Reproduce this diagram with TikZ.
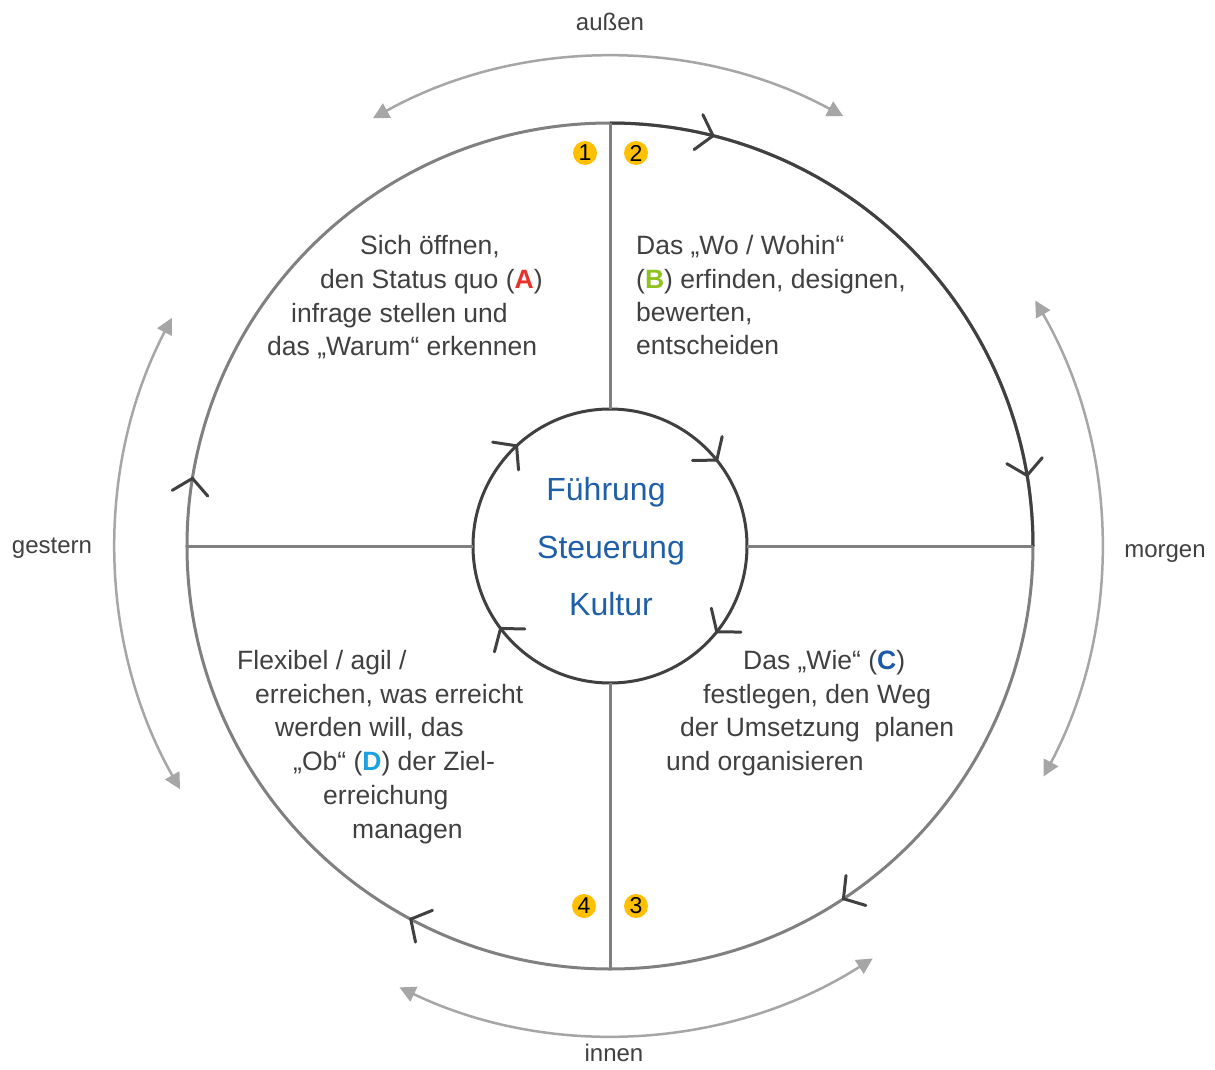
\documentclass[tikz,border=0pt]{standalone}
\usepackage{fontspec}
\setmainfont{Liberation Sans}
\usetikzlibrary{arrows.meta}
\definecolor{txt}{HTML}{404040}
\definecolor{ringgray}{HTML}{808080}
\definecolor{ringdark}{HTML}{404040}
\definecolor{outgray}{HTML}{A6A6A6}
\definecolor{cA}{HTML}{E8312A}
\definecolor{cB}{HTML}{8DC21F}
\definecolor{cC}{HTML}{1B5AA6}
\definecolor{cD}{HTML}{1BA1E2}
\definecolor{cblue}{HTML}{1F5FA8}
\definecolor{numyellow}{HTML}{FFC000}
\tikzset{
  ring/.style={circle, draw=ringgray, line width=3pt, inner sep=0pt, outer sep=0pt},
  innerring/.style={circle, draw=ringdark, line width=3pt, inner sep=0pt, outer sep=0pt},
  divider/.style={draw=ringgray, line width=3pt},
  chev/.style={draw=ringdark, line width=3pt, line cap=round, line join=miter},
  outarrow/.style={draw=outgray, line width=2.5pt, {Triangle[length=16pt,width=16pt]}-{Triangle[length=16pt,width=16pt]}},
  bodytext/.style={anchor=base west, inner sep=0pt, text=txt, font=\fontsize{26.5}{33.5}\selectfont},
  centertext/.style={anchor=base, inner sep=0pt, text=cblue, font=\fontsize{32}{38}\selectfont},
  sidetext/.style={anchor=base, inner sep=0pt, text=txt, font=\fontsize{24}{28}\selectfont},
  numdot/.style={circle, fill=numyellow, minimum size=24pt, inner sep=0pt, font=\fontsize{23}{25}\selectfont, text=black}
}
\newcommand{\lA}{\textbf{\textcolor{cA}{A}}}
\newcommand{\lB}{\textbf{\textcolor{cB}{B}}}
\newcommand{\lC}{\textbf{\textcolor{cC}{C}}}
\newcommand{\lD}{\textbf{\textcolor{cD}{D}}}
\begin{document}
\begin{tikzpicture}[x=1pt,y=1pt]
\useasboundingbox (-610,-523) rectangle (605,546);
\fill[white] (-610,-523) rectangle (605,546);

% outer double arrows
\draw[outarrow] (61.5:489) arc[start angle=61.5, end angle=119, radius=489];
\draw[outarrow] (-28:491) arc[start angle=-28, end angle=30, radius=491];
\draw[outarrow] (152.5:494) arc[start angle=152.5, end angle=209.5, radius=494];
\draw[outarrow] (244.5:489) arc[start angle=244.5, end angle=302.5, radius=489];

% rings
\node[ring, minimum size=846pt] (big) at (0,0) {};
\draw[draw=ringdark, line width=3pt] (big.east) arc[start angle=0, end angle=90, radius=423];
\node[innerring, minimum size=274pt] (inner) at (0,0) {};

% dividers
\draw[divider] (big.north) -- (inner.north);
\draw[divider] (inner.south) -- (big.south);
\draw[divider] (big.west) -- (inner.west);
\draw[divider] (inner.east) -- (big.east);

% chevrons on big ring
\foreach \a in {75.9, 9.6, -56.5, 241.9, 170.8}
  \draw[chev, shift={(\a:423)}, rotate=\a-90] (-15,18) -- (0,0) -- (-15,-18);
% chevrons on inner ring
\foreach \a in {133, 38.8, -38.8, 217}
  \draw[chev, shift={(\a:137)}, rotate=\a-90] (-15,19) -- (0,0) -- (-15,-19);

% center text
\node[centertext] (f) at (-4,46) {Führung};
\node[centertext] (s) at (1,-12) {Steuerung};
\node[centertext] (k) at (1,-69) {Kultur};

% side labels
\node[sidetext] (aussen) at (0,515) {außen};
\node[sidetext] (innen) at (4,-515) {innen};
\node[sidetext] (gestern) at (-558,-7) {gestern};
\node[sidetext] (morgen) at (555,-11) {morgen};

% number dots
\node[numdot] (n1) at (-25,393) {1};
\node[numdot] (n2) at (26,393) {2};
\node[numdot] (n4) at (-26,-360) {4};
\node[numdot] (n3) at (26,-360) {3};

% quadrant 1
\node[bodytext] (q1a) at (-250,292) {Sich öffnen,};
\node[bodytext] (q1b) at (-290,258) {den Status quo (\lA)};
\node[bodytext] (q1c) at (-319,224) {infrage stellen und};
\node[bodytext] (q1d) at (-343,191) {das „Warum“ erkennen};

% quadrant 2
\node[bodytext] (q2a) at (26,292) {Das „Wo / Wohin“};
\node[bodytext] (q2b) at (26,258) {(\lB) erfinden, designen,};
\node[bodytext] (q2c) at (26,225) {bewerten,};
\node[bodytext] (q2d) at (26,192) {entscheiden};

% quadrant 3
\node[bodytext] (q3a) at (133,-123) {Das „Wie“ (\lC)};
\node[bodytext] (q3b) at (93,-157) {festlegen, den Weg};
\node[bodytext] (q3c) at (70,-190) {der Umsetzung\ \ planen};
\node[bodytext] (q3d) at (56,-224) {und organisieren};

% quadrant 4
\node[bodytext] (q4a) at (-373,-123) {Flexibel / agil /};
\node[bodytext] (q4b) at (-355,-157) {erreichen, was erreicht};
\node[bodytext] (q4c) at (-335,-190) {werden will, das};
\node[bodytext] (q4d) at (-317,-224) {„Ob“ (\lD) der Ziel-};
\node[bodytext] (q4e) at (-287,-258) {erreichung};
\node[bodytext] (q4f) at (-258,-292) {managen};
\end{tikzpicture}
\end{document}
